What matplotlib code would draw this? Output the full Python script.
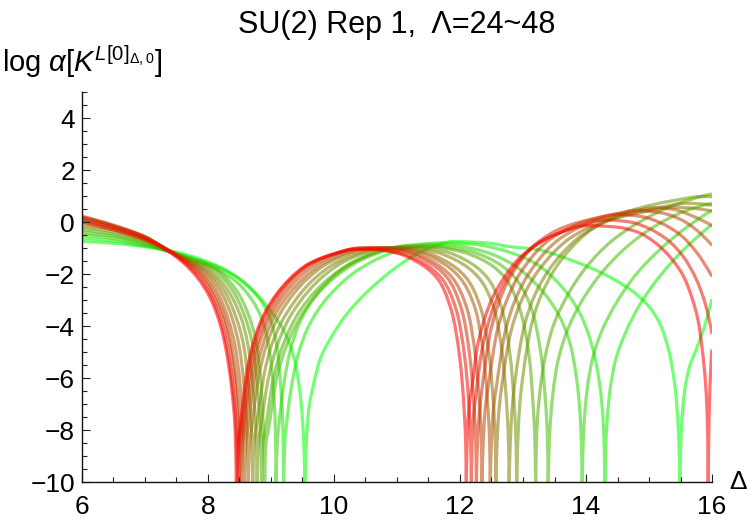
import matplotlib
matplotlib.use('Agg')
import matplotlib.pyplot as plt
from matplotlib.path import Path
from matplotlib.patches import PathPatch
from matplotlib.ticker import MultipleLocator

plt.rcParams['font.family'] = ['Liberation Sans', 'DejaVu Sans']
plt.rcParams['mathtext.fontset'] = 'custom'
plt.rcParams['mathtext.rm'] = 'Liberation Sans'
plt.rcParams['mathtext.it'] = 'Liberation Sans:italic'
plt.rcParams['mathtext.bf'] = 'Liberation Sans:bold'

# curves, one pair of lists per cutoff Lambda

x24 = [6.0, 6.5, 7.0, 7.3, 7.6, 7.9, 8.2, 8.5, 8.8, 9.05, 9.25, 9.4, 9.48, 9.52, 9.54,
       9.56, 9.6, 9.68, 9.78, 9.94, 10.2, 10.5, 10.8, 11.1, 11.4, 11.9, 12.4, 12.8, 13.2, 13.8, 14.4, 14.88, 15.15, 15.32, 15.42, 15.47, 15.49,
       15.51, 15.56, 15.64, 15.75, 15.87, 16.0]
y24 = [-0.75, -0.82, -0.95, -1.06, -1.22, -1.45, -1.75, -2.2, -2.85, -3.6, -4.4, -5.6, -7.0, -8.5, -10,
       -8.5, -7.2, -6.2, -5.27, -4.5, -3.55, -2.75, -2.1, -1.55, -1.12, -0.75, -0.8, -0.95, -1.05, -1.5, -2.15, -2.95, -3.8, -5.0, -6.5, -8.2, -10,
       -8.2, -6.6, -5.6, -4.9, -4.1, -2.96]

x26 = [6.0, 6.5, 7.0, 7.3, 7.6, 8.0, 8.45, 8.8, 9.0, 9.1, 9.16, 9.19, 9.2,
       9.22, 9.26, 9.32, 9.42, 9.58, 9.9, 10.35, 10.85, 11.3, 11.7, 12.2, 12.7, 13.2, 13.6, 13.9, 14.1, 14.22, 14.28, 14.3,
       14.32, 14.37, 14.46, 14.62, 14.85, 15.2, 15.6, 16.0]
y26 = [-0.62, -0.73, -0.93, -1.08, -1.28, -1.58, -2.1, -2.9, -3.8, -4.9, -6.5, -8.0, -10,
       -8.5, -7.5, -6.4, -5.2, -4.1, -2.9, -1.9, -1.25, -0.92, -0.8, -0.85, -1.1, -1.6, -2.45, -3.5, -4.8, -6.3, -8.0, -10,
       -8.3, -6.7, -5.4, -4.3, -3.2, -2.0, -0.95, -0.1]

x28 = [6.0, 6.5, 7.0, 7.3, 7.6, 8.0, 8.4, 8.7, 8.88, 8.98, 9.04, 9.07, 9.08,
       9.1, 9.14, 9.2, 9.3, 9.45, 9.75, 10.2, 10.7, 11.1, 11.45, 11.9, 12.4, 12.85, 13.25, 13.55, 13.75, 13.86, 13.92, 13.94,
       13.96, 14.01, 14.1, 14.25, 14.46, 14.8, 15.2, 15.6, 16.0]
y28 = [-0.5, -0.63, -0.88, -1.08, -1.3, -1.65, -2.2, -3.0, -3.9, -5.0, -6.5, -8.0, -10,
       -8.5, -7.5, -6.3, -5.0, -3.9, -2.7, -1.7, -1.15, -0.92, -0.85, -0.9, -1.15, -1.65, -2.5, -3.5, -4.7, -6.2, -8.0, -10,
       -8.2, -6.6, -5.3, -4.2, -3.2, -2.0, -1.0, -0.2, 0.45]

x30 = [6.0, 6.5, 7.0, 7.3, 7.6, 8.1, 8.43, 8.64, 8.77, 8.85, 8.88, 8.9,
       8.92, 8.96, 9.02, 9.09, 9.24, 9.52, 10.0, 10.42, 10.85, 11.2, 11.6, 12.08, 12.48, 12.85, 13.13, 13.29, 13.36, 13.39, 13.4,
       13.42, 13.47, 13.55, 13.7, 13.92, 14.25, 14.65, 15.1, 15.55, 16.0]
y30 = [-0.4, -0.55, -0.83, -1.07, -1.32, -1.76, -2.55, -3.55, -4.7, -6.5, -8.0, -10,
       -8.5, -8.0, -7.0, -6.0, -4.8, -3.45, -2.15, -1.48, -1.08, -0.92, -0.93, -1.08, -1.42, -2.08, -3.3, -5.17, -7.0, -8.5, -10,
       -8.3, -6.7, -5.4, -4.2, -3.1, -1.95, -0.95, -0.15, 0.4, 0.72]

x32 = [6.0, 6.5, 7.0, 7.3, 7.6, 8.07, 8.38, 8.58, 8.71, 8.79, 8.83, 8.85,
       8.87, 8.91, 8.97, 9.04, 9.18, 9.45, 9.93, 10.33, 10.75, 11.1, 11.5, 11.95, 12.35, 12.7, 12.95, 13.1, 13.16, 13.19, 13.2,
       13.22, 13.27, 13.35, 13.48, 13.7, 14.0, 14.4, 14.85, 15.4, 16.0]
y32 = [-0.3, -0.47, -0.78, -1.06, -1.34, -1.8, -2.6, -3.6, -4.75, -6.5, -8.0, -10,
       -8.5, -8.0, -7.0, -6.0, -4.8, -3.45, -2.15, -1.5, -1.1, -0.95, -0.95, -1.1, -1.45, -2.1, -3.35, -5.2, -7.0, -8.5, -10,
       -8.0, -6.5, -5.2, -4.0, -2.85, -1.75, -0.75, 0.0, 0.65, 1.08]

x34 = [6.0, 6.5, 7.0, 7.3, 7.6, 8.03, 8.32, 8.52, 8.64, 8.72, 8.76, 8.78,
       8.8, 8.83, 8.89, 8.96, 9.09, 9.35, 9.8, 10.18, 10.6, 10.95, 11.32, 11.74, 12.1, 12.43, 12.67, 12.8, 12.86, 12.89, 12.9,
       12.92, 12.95, 13.0, 13.06, 13.14, 13.31, 13.61, 14.14, 14.73, 15.38, 15.85, 16.0]
y34 = [-0.2, -0.38, -0.73, -1.04, -1.35, -1.85, -2.65, -3.65, -4.8, -6.5, -8.0, -10,
       -8.5, -8.0, -7.0, -6.0, -4.8, -3.45, -2.15, -1.5, -1.12, -0.98, -0.98, -1.12, -1.48, -2.13, -3.38, -5.23, -7.0, -8.5, -10,
       -8.3, -7.0, -5.9, -4.9, -3.9, -2.7, -1.45, -0.2, 0.45, 0.82, 0.98, 0.97]

x36 = [6.0, 6.5, 7.0, 7.3, 7.6, 8.0, 8.27, 8.45, 8.57, 8.65, 8.69, 8.71,
       8.73, 8.76, 8.82, 8.88, 9.0, 9.25, 9.68, 10.05, 10.47, 10.8, 11.18, 11.6, 11.96, 12.3, 12.55, 12.68, 12.74, 12.77, 12.78,
       12.8, 12.83, 12.88, 12.94, 13.02, 13.18, 13.47, 13.97, 14.53, 15.15, 15.6, 16.0]
y36 = [-0.1, -0.3, -0.68, -1.02, -1.36, -1.9, -2.7, -3.7, -4.8, -6.5, -8.0, -10,
       -8.5, -8.0, -7.0, -6.0, -4.8, -3.5, -2.2, -1.55, -1.15, -1.0, -1.0, -1.15, -1.5, -2.15, -3.4, -5.25, -7.0, -8.5, -10,
       -8.4, -7.1, -6.0, -5.0, -4.0, -2.85, -1.65, -0.45, 0.2, 0.55, 0.72, 0.64]

x38 = [6.0, 6.5, 7.0, 7.3, 7.6, 7.98, 8.22, 8.39, 8.5, 8.58, 8.62, 8.64,
       8.66, 8.69, 8.74, 8.8, 8.92, 9.15, 9.57, 9.93, 10.34, 10.65, 11.02, 11.42, 11.77, 12.1, 12.34, 12.47, 12.53, 12.56, 12.57,
       12.59, 12.62, 12.67, 12.73, 12.81, 12.97, 13.25, 13.76, 14.32, 14.95, 15.4, 15.7, 16.0]
y38 = [0.05, -0.22, -0.62, -1.0, -1.38, -1.95, -2.75, -3.75, -4.85, -6.5, -8.0, -10,
       -8.5, -8.0, -7.0, -6.0, -4.8, -3.5, -2.2, -1.55, -1.15, -1.0, -1.0, -1.15, -1.5, -2.15, -3.4, -5.25, -7.0, -8.5, -10,
       -8.4, -7.2, -6.2, -5.2, -4.2, -3.05, -1.85, -0.6, 0.05, 0.4, 0.57, 0.53, 0.42]

x40 = [6.0, 6.5, 7.0, 7.3, 7.6, 7.95, 8.17, 8.33, 8.44, 8.52, 8.56, 8.58,
       8.6, 8.63, 8.68, 8.74, 8.86, 9.08, 9.5, 9.85, 10.25, 10.55, 10.92, 11.32, 11.67, 12.0, 12.25, 12.38, 12.44, 12.47, 12.48,
       12.5, 12.53, 12.58, 12.64, 12.71, 12.86, 13.12, 13.58, 14.1, 14.68, 15.1, 15.4, 15.7, 16.0]
y40 = [0.15, -0.15, -0.57, -0.99, -1.4, -2.0, -2.8, -3.8, -4.9, -6.5, -8.0, -10,
       -8.5, -8.0, -7.0, -6.0, -4.8, -3.5, -2.2, -1.55, -1.15, -1.0, -1.0, -1.15, -1.5, -2.15, -3.4, -5.25, -7.0, -8.5, -10,
       -8.4, -7.2, -6.3, -5.3, -4.3, -3.1, -1.88, -0.65, 0.0, 0.37, 0.55, 0.48, 0.22, -0.14]

x42 = [6.0, 6.5, 7.0, 7.3, 7.6, 7.92, 8.13, 8.29, 8.39, 8.47, 8.51, 8.53,
       8.55, 8.58, 8.63, 8.69, 8.8, 9.02, 9.42, 9.76, 10.15, 10.45, 10.8, 11.2, 11.55, 11.88, 12.12, 12.25, 12.31, 12.34, 12.35,
       12.37, 12.4, 12.45, 12.51, 12.58, 12.72, 12.96, 13.4, 13.88, 14.42, 14.8, 15.2, 15.5, 15.75, 16.0]
y42 = [0.22, -0.12, -0.56, -0.98, -1.42, -2.05, -2.85, -3.85, -4.95, -6.5, -8.0, -10,
       -8.5, -8.0, -7.0, -6.0, -4.8, -3.5, -2.2, -1.55, -1.15, -1.0, -1.0, -1.15, -1.5, -2.15, -3.4, -5.25, -7.0, -8.5, -10,
       -8.4, -7.2, -6.3, -5.3, -4.3, -3.15, -1.95, -0.72, -0.08, 0.28, 0.45, 0.35, 0.1, -0.3, -0.9]

x44 = [6.0, 6.5, 7.0, 7.3, 7.6, 7.9, 8.1, 8.26, 8.36, 8.44, 8.48, 8.5,
       8.52, 8.55, 8.6, 8.65, 8.76, 8.97, 9.35, 9.68, 10.08, 10.38, 10.72, 11.12, 11.47, 11.8, 12.03, 12.16, 12.22, 12.25, 12.26,
       12.28, 12.31, 12.35, 12.4, 12.46, 12.58, 12.8, 13.2, 13.65, 14.14, 14.5, 14.9, 15.2, 15.5, 15.75, 16.0]
y44 = [0.2, -0.15, -0.58, -0.98, -1.45, -2.1, -2.9, -3.9, -5.0, -6.5, -8.0, -10,
       -8.5, -8.0, -7.0, -6.0, -4.8, -3.5, -2.2, -1.55, -1.17, -1.0, -1.0, -1.15, -1.5, -2.15, -3.4, -5.25, -7.0, -8.5, -10,
       -8.4, -7.3, -6.4, -5.5, -4.5, -3.35, -2.1, -0.85, -0.2, 0.14, 0.3, 0.2, -0.05, -0.5, -1.15, -2.1]

x46 = [6.0, 6.5, 7.0, 7.3, 7.6, 7.87, 8.07, 8.22, 8.32, 8.4, 8.45, 8.47,
       8.49, 8.52, 8.57, 8.62, 8.72, 8.92, 9.29, 9.62, 10.02, 10.32, 10.65, 11.05, 11.4, 11.72, 11.95, 12.08, 12.14, 12.17, 12.18,
       12.2, 12.24, 12.29, 12.35, 12.48, 12.69, 13.07, 13.49, 13.96, 14.3, 14.7, 15.0, 15.3, 15.55, 15.75, 15.9, 16.0]
y46 = [0.1, -0.22, -0.62, -1.0, -1.5, -2.15, -2.95, -3.95, -5.05, -6.5, -8.0, -10,
       -8.5, -8.0, -7.0, -6.0, -4.8, -3.5, -2.25, -1.6, -1.22, -1.05, -1.05, -1.2, -1.55, -2.2, -3.46, -5.3, -7.0, -8.5, -10,
       -7.9, -6.9, -5.9, -4.9, -3.65, -2.4, -1.15, -0.5, -0.1, 0.08, 0.0, -0.25, -0.7, -1.35, -2.2, -3.2, -4.3]

x48 = [6.0, 6.5, 7.0, 7.3, 7.6, 7.85, 8.05, 8.2, 8.3, 8.38, 8.43, 8.45,
       8.47, 8.5, 8.55, 8.6, 8.7, 8.9, 9.27, 9.6, 10.0, 10.3, 10.6, 11.0, 11.33, 11.65, 11.87, 12.0, 12.06, 12.09, 12.1,
       12.12, 12.15, 12.21, 12.26, 12.38, 12.5, 12.71, 12.98, 13.5, 14.03, 14.5, 14.83, 15.1, 15.36, 15.55, 15.68, 15.78, 15.85, 15.9, 15.93, 15.94,
       15.95, 15.97, 16.0]
y48 = [0.0, -0.3, -0.68, -1.02, -1.55, -2.2, -3.0, -4.0, -5.1, -6.5, -8.0, -10,
       -8.5, -8.0, -7.0, -6.0, -4.8, -3.5, -2.25, -1.6, -1.22, -1.05, -1.05, -1.2, -1.55, -2.2, -3.46, -5.3, -7.0, -8.5, -10,
       -8.0, -7.0, -6.0, -5.0, -3.8, -3.0, -2.1, -1.3, -0.5, -0.14, -0.2, -0.4, -0.8, -1.42, -2.1, -2.9, -3.8, -5.0, -6.3, -8.0, -10,
       -8.0, -6.2, -4.9]

lambdas = [24, 26, 28, 30, 32, 34, 36, 38, 40, 42, 44, 46, 48]
xs = [x24, x26, x28, x30, x32, x34, x36, x38, x40, x42, x44, x46, x48]
ys = [y24, y26, y28, y30, y32, y34, y36, y38, y40, y42, y44, y46, y48]

x_ticks = [6, 8, 10, 12, 14, 16]
y_ticks = [-10, -8, -6, -4, -2, 0, 2, 4]
y_floor = -10


def pchip_slopes(x, y):
    # monotone cubic slopes, so the curve does not overshoot the read points
    n = len(x)
    h = [x[k + 1] - x[k] for k in range(n - 1)]
    d = [(y[k + 1] - y[k]) / h[k] for k in range(n - 1)]
    if n == 2:
        return [d[0], d[0]]
    m = [0.0] * n
    for k in range(1, n - 1):
        if d[k - 1] * d[k] > 0:
            w1 = 2 * h[k] + h[k - 1]
            w2 = h[k] + 2 * h[k - 1]
            m[k] = (w1 + w2) / (w1 / d[k - 1] + w2 / d[k])

    def end(h0, h1, d0, d1):
        s = ((2 * h0 + h1) * d0 - h0 * d1) / (h0 + h1)
        if s * d0 <= 0:
            return 0.0
        if d0 * d1 <= 0 and abs(s) > 3 * abs(d0):
            return 3 * d0
        return s

    m[0] = end(h[0], h[1], d[0], d[1])
    m[-1] = end(h[-1], h[-2], d[-1], d[-2])
    return m


def curve_path(x, y):
    # smooth bezier pieces between the zeros, sharp corner at each zero
    cuts = [0] + [k for k in range(1, len(y) - 1) if y[k] <= y_floor] + [len(y) - 1]
    verts = [(x[0], y[0])]
    codes = [Path.MOVETO]
    for a, b in zip(cuts[:-1], cuts[1:]):
        px, py = x[a:b + 1], y[a:b + 1]
        m = pchip_slopes(px, py)
        for k in range(len(px) - 1):
            hh = (px[k + 1] - px[k]) / 3
            verts += [(px[k] + hh, py[k] + m[k] * hh),
                      (px[k + 1] - hh, py[k + 1] - m[k + 1] * hh),
                      (px[k + 1], py[k + 1])]
            codes += [Path.CURVE4] * 3
    return Path(verts, codes)


fig = plt.figure(figsize=(7.5, 5.25), dpi=100)
ax = fig.add_axes([82 / 750, 43 / 525, 630 / 750, 390 / 525])

# green -> red blend, like Blend[{Green, Red}, t]
for lam, x, y in zip(lambdas, xs, ys):
    t = (lam - 24) / 24
    patch = PathPatch(curve_path(x, y), facecolor='none', edgecolor=(t, 1 - t, 0),
                      alpha=0.55, lw=2.3, joinstyle='round', capstyle='butt')
    ax.add_patch(patch)

ax.set_xlim(6, 16)
ax.set_ylim(-10, 5)
ax.set_xticks(x_ticks)
ax.set_yticks(y_ticks)
ax.xaxis.set_minor_locator(MultipleLocator(0.5))
ax.yaxis.set_minor_locator(MultipleLocator(0.5))
ax.tick_params(which='both', direction='in', labelsize=19, width=0.8, color='#222222')
ax.tick_params(which='major', length=6)
ax.tick_params(which='minor', length=3.5)
ax.tick_params(axis='x', pad=9)
ax.tick_params(axis='y', pad=5)

for s in ['top', 'right']:
    ax.spines[s].set_visible(False)
for s in ['left', 'bottom']:
    ax.spines[s].set_linewidth(1.0)
    ax.spines[s].set_color('#111111')

fig.text(0.529, 0.937, 'SU(2) Rep 1,  \u039b=24~48', ha='center', va='baseline', fontsize=22)
fig.text(0.002, 0.862, r'log $\alpha[K^{L[0]_{\Delta,0}}]$', ha='left', va='baseline', fontsize=21)
fig.text(0.972, 0.068, '\u0394', ha='left', va='baseline', fontsize=19)

fig.savefig('out.png', dpi=100)
